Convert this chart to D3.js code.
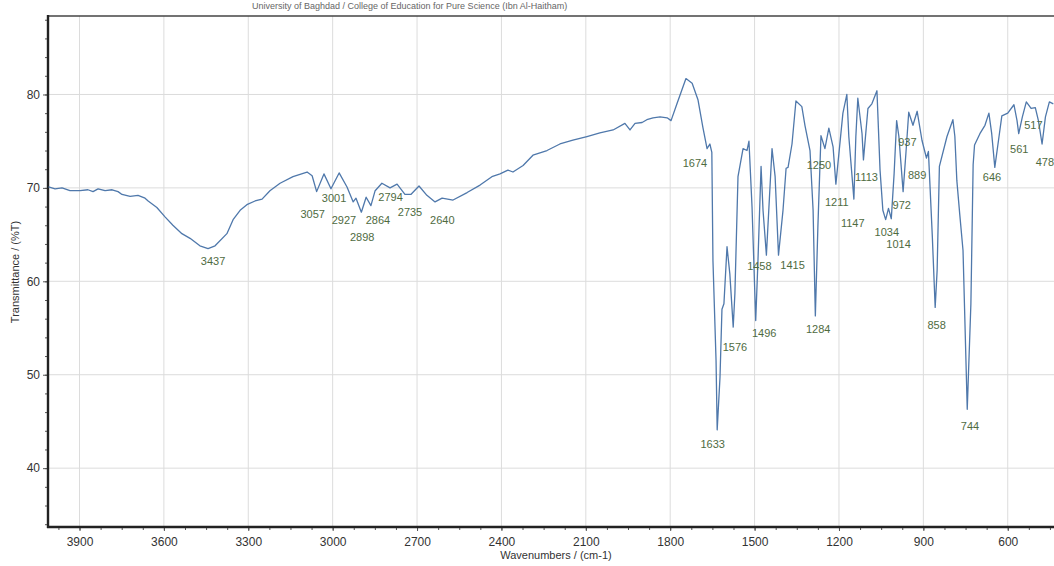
<html lang="en">
<head>
    <meta charset="utf-8">
    <title>FTIR Spectrum</title>
    <script type="text/javascript" src="https://cdn.jsdelivr.net/npm/d3@7/dist/d3.min.js"></script>
    <style>
        body { margin: 0; background: #fff; }
        text { font-family: "Liberation Sans", Arial, sans-serif; }
    </style>
</head>
<body>
<script type="text/javascript">
    // spectrum (wavenumber cm-1, %T)
    var wavenumbers = [4010, 3987, 3962, 3934, 3898, 3870, 3852, 3834, 3809, 3784, 3763, 3749, 3720, 3692, 3667, 3656, 3625, 3596, 3568, 3536,
        3507, 3472, 3443, 3418, 3376, 3354, 3329, 3305, 3276, 3251, 3223, 3187, 3141, 3091, 3073, 3057, 3031, 3006, 2977, 2949,
        2927, 2917, 2898, 2881, 2864, 2849, 2825, 2796, 2771, 2743, 2722, 2693, 2665, 2636, 2611, 2572, 2522, 2476, 2434, 2405,
        2377, 2359, 2323, 2288, 2238, 2192, 2146, 2096, 2050, 2003, 1961, 1943, 1925, 1900, 1883, 1861, 1836, 1811, 1797, 1776,
        1744, 1722, 1701, 1684, 1669, 1659, 1652, 1648, 1637, 1633, 1623, 1616, 1609, 1598, 1588, 1576, 1570, 1559, 1541, 1527,
        1520, 1509, 1496, 1488, 1477, 1470, 1458, 1438, 1427, 1415, 1399, 1388, 1381, 1367, 1353, 1332, 1321, 1303, 1292, 1284,
        1275, 1264, 1250, 1236, 1221, 1211, 1186, 1172, 1165, 1147, 1140, 1133, 1118, 1113, 1097, 1083, 1065, 1054, 1044, 1034,
        1024, 1014, 1004, 995, 987, 972, 962, 952, 937, 922, 905, 889, 882, 868, 858, 851, 843, 816, 795, 788,
        781, 771, 759, 744, 731, 723, 718, 699, 681, 667, 657, 646, 631, 621, 600, 578, 567, 561, 548, 534,
        517, 502, 491, 478, 466, 452, 438];
    var transmittance = [70.1, 69.9, 70.0, 69.7, 69.7, 69.8, 69.6, 69.9, 69.7, 69.8, 69.6, 69.3, 69.1, 69.2, 68.9, 68.6, 67.9, 66.9, 66.0, 65.1,
        64.6, 63.8, 63.5, 63.8, 65.1, 66.6, 67.6, 68.2, 68.6, 68.8, 69.7, 70.5, 71.2, 71.7, 71.3, 69.6, 71.5, 69.9, 71.6, 70.1,
        68.5, 68.9, 67.4, 69.0, 68.1, 69.7, 70.5, 70.0, 70.4, 69.3, 69.3, 70.2, 69.2, 68.5, 68.9, 68.7, 69.5, 70.3, 71.2, 71.5,
        71.9, 71.7, 72.4, 73.5, 74.0, 74.7, 75.1, 75.5, 75.9, 76.2, 76.9, 76.2, 76.9, 77.0, 77.3, 77.5, 77.6, 77.5, 77.2, 79.0,
        81.7, 81.2, 79.4, 76.5, 74.2, 74.7, 73.8, 62.2, 51.5, 44.1, 49.7, 57.0, 57.6, 63.7, 60.8, 55.1, 58.7, 71.2, 74.2, 74.0,
        75.0, 67.9, 55.8, 62.2, 72.3, 67.6, 62.8, 74.2, 71.2, 62.8, 67.6, 72.1, 72.2, 74.7, 79.3, 78.7, 76.7, 74.0, 67.6, 56.3,
        65.8, 75.6, 74.2, 76.4, 74.4, 70.4, 78.0, 80.0, 75.5, 68.8, 75.5, 79.6, 75.8, 73.0, 78.5, 79.0, 80.4, 71.9, 67.6, 66.6,
        67.8, 66.7, 71.5, 77.2, 75.5, 69.6, 73.7, 78.1, 76.7, 78.2, 75.1, 73.2, 73.9, 64.7, 57.2, 61.2, 72.3, 75.5, 77.3, 75.5,
        70.8, 67.3, 63.3, 46.3, 57.6, 72.5, 74.6, 75.8, 76.7, 78.0, 75.8, 72.2, 75.5, 77.7, 78.0, 78.9, 77.2, 75.8, 77.6, 79.2,
        78.5, 78.6, 77.2, 74.7, 77.6, 79.2, 79.0];

    // peak labels and where each label sits, in chart units
    var peakNames = ["3437", "3057", "3001", "2927", "2898", "2864", "2794", "2735", "2640", "1674", "1633", "1576", "1496", "1458", "1415", "1284",
        "1250", "1211", "1147", "1113", "1034", "1014", "972", "937", "889", "858", "744", "646", "561", "517", "478"];
    var labelWn = [3425, 3071, 2995, 2960, 2895, 2839, 2794, 2725, 2610, 1712, 1649, 1570, 1466, 1483, 1365, 1274,
        1271, 1208, 1151, 1102, 1030, 988, 977, 957, 922, 853, 734, 656, 559, 509, 468];
    var labelT = [62.2, 67.2, 68.9, 66.5, 64.7, 66.5, 69.0, 67.4, 66.5, 72.6, 42.6, 53.0, 54.4, 61.6, 61.7, 54.9,
        72.4, 68.5, 66.2, 71.2, 65.3, 64.0, 68.1, 74.9, 71.4, 55.3, 44.5, 71.1, 74.2, 76.7, 72.8];

    var xTicks = [3900, 3600, 3300, 3000, 2700, 2400, 2100, 1800, 1500, 1200, 900, 600];
    var yTicks = [40, 50, 60, 70, 80];

    drawSpectrum();

    function drawSpectrum() {
        var width = 1054, height = 566;
        var plotLeft = 48, plotRight = 1064, plotTop = 16, plotBottom = 527;

        var svg = d3.select("body").append("svg").attr("width", width).attr("height", height);

        var x = d3.scaleLinear().domain([4012, 400]).range([plotLeft, plotRight]);
        var y = d3.scaleLinear().domain([33.7, 88.4]).range([plotBottom, plotTop]);

        svg.append("defs").append("clipPath").attr("id", "plot")
            .append("rect").attr("x", plotLeft).attr("y", plotTop).attr("width", plotRight - plotLeft).attr("height", plotBottom - plotTop);

        // faint header of the printout
        svg.append("text").text("University of Baghdad / College of Education for Pure Science (Ibn Al-Haitham)")
            .attr("x", 252).attr("y", 9).attr("font-size", "9px").attr("fill", "#666");

        // grid
        svg.append("g").selectAll("line").data(xTicks).enter().append("line")
            .attr("x1", function (d) { return x(d) }).attr("x2", function (d) { return x(d) })
            .attr("y1", plotTop).attr("y2", plotBottom).attr("stroke", "#dcdcdc").attr("stroke-width", 1);
        svg.append("g").selectAll("line").data(yTicks).enter().append("line")
            .attr("x1", plotLeft).attr("x2", plotRight)
            .attr("y1", function (d) { return y(d) }).attr("y2", function (d) { return y(d) })
            .attr("stroke", "#dcdcdc").attr("stroke-width", 1);

        // minor ticks
        var xMinor = d3.range(3975, 400, -75);
        var yMinor = d3.range(34, 89, 2);
        svg.append("g").attr("transform", "translate(0," + plotBottom + ")")
            .call(d3.axisBottom(x).tickValues(xMinor).tickSize(3).tickFormat(""));
        svg.append("g").attr("transform", "translate(" + plotLeft + ",0)")
            .call(d3.axisLeft(y).tickValues(yMinor).tickSize(3).tickFormat(""));

        var xAxis = d3.axisBottom(x).tickValues(xTicks).tickSize(4).tickPadding(6).tickFormat(d3.format("d"));
        var yAxis = d3.axisLeft(y).tickValues(yTicks).tickSize(5).tickPadding(3).tickFormat(d3.format("d"));
        var gx = svg.append("g").attr("transform", "translate(0," + plotBottom + ")").call(xAxis);
        var gy = svg.append("g").attr("transform", "translate(" + plotLeft + ",0)").call(yAxis);

        svg.selectAll(".domain").remove();
        svg.selectAll(".tick line").attr("stroke", "#555");
        gx.selectAll("text").attr("font-size", "12px").attr("fill", "#333").attr("font-family", "Liberation Sans, Arial, sans-serif");
        gy.selectAll("text").attr("font-size", "12px").attr("fill", "#333").attr("font-family", "Liberation Sans, Arial, sans-serif");

        // frame
        svg.append("line").attr("x1", plotLeft).attr("x2", width).attr("y1", plotTop).attr("y2", plotTop).attr("stroke", "#444").attr("stroke-width", 1.6);
        svg.append("line").attr("x1", plotLeft).attr("x2", plotLeft).attr("y1", plotTop - 1).attr("y2", plotBottom + 1).attr("stroke", "#222").attr("stroke-width", 2.4);
        svg.append("line").attr("x1", plotLeft - 1).attr("x2", width).attr("y1", plotBottom).attr("y2", plotBottom).attr("stroke", "#222").attr("stroke-width", 2.4);

        // axis titles
        svg.append("text").text("Wavenumbers / (cm-1)").attr("x", 556).attr("y", 559)
            .attr("text-anchor", "middle").attr("font-size", "11px").attr("fill", "#333");
        svg.append("text").text("Transmittance / (%T)").attr("transform", "translate(19,272) rotate(-90)")
            .attr("text-anchor", "middle").attr("font-size", "11px").attr("fill", "#333");

        // spectrum
        var points = wavenumbers.map(function (d, i) { return [d, transmittance[i]] });
        var line = d3.line().x(function (d) { return x(d[0]) }).y(function (d) { return y(d[1]) });
        svg.append("path").attr("d", line(points)).attr("clip-path", "url(#plot)")
            .attr("fill", "none").attr("stroke", "#4f78ab").attr("stroke-width", 1.3).attr("stroke-linejoin", "round");

        // peak labels
        svg.append("g").selectAll("text").data(peakNames).enter().append("text")
            .text(function (d) { return d })
            .attr("x", function (d, i) { return x(labelWn[i]) })
            .attr("y", function (d, i) { return y(labelT[i]) })
            .attr("dy", "0.35em").attr("text-anchor", "middle")
            .attr("font-size", "11px").attr("fill", "#4f6b3f");
    }
</script>
</body>
</html>
